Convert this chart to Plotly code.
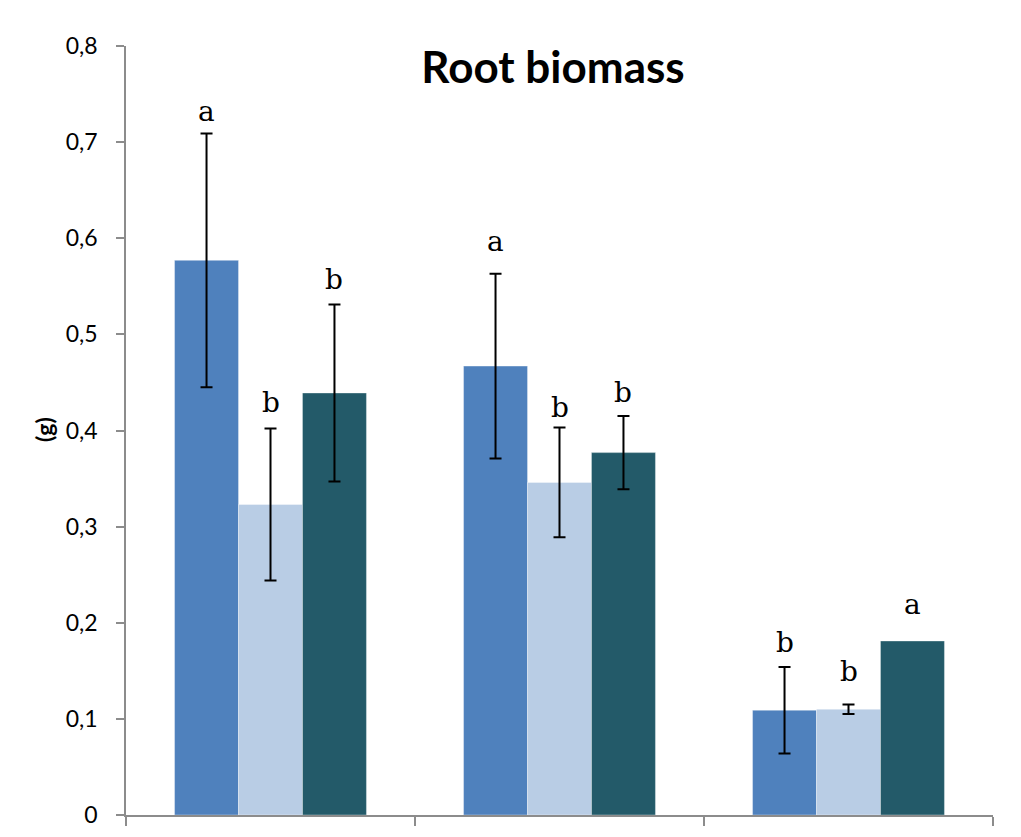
import plotly.graph_objects as go

categories = ["Group 1", "Group 2", "Group 3"]
series_names = ["Series 1", "Series 2", "Series 3"]
values = [
    [0.577, 0.467, 0.109],
    [0.323, 0.346, 0.110],
    [0.439, 0.377, 0.181],
]
errors = [
    [0.132, 0.096, 0.045],
    [0.079, 0.057, 0.005],
    [0.092, 0.038, None],
]
letters = [
    ["a", "a", "b"],
    ["b", "b", "b"],
    ["b", "b", "a"],
]
letter_y = [
    [0.7315, 0.5963, 0.179],
    [0.4287, 0.4235, 0.1498],
    [0.5567, 0.4391, 0.2185],
]
colors = ["#4F81BD", "#B9CDE5", "#235A69"]
y_ticks = [0, 0.1, 0.2, 0.3, 0.4, 0.5, 0.6, 0.7, 0.8]
y_tick_labels = ["0", "0,1", "0,2", "0,3", "0,4", "0,5", "0,6", "0,7", "0,8"]

bargap = 0.336
bw = (1 - bargap) / 3
xpos = list(range(len(categories)))

fig = go.Figure()
for i, name in enumerate(series_names):
    offs = (i - 1) * bw
    xs = [p + offs for p in xpos]
    fig.add_trace(go.Bar(
        x=xs, y=values[i], name=name, width=bw,
        marker=dict(color=colors[i], line=dict(color="rgba(255,255,255,0.35)", width=1)),
    ))
    ex = [x for x, e in zip(xs, errors[i]) if e is not None]
    ey = [v for v, e in zip(values[i], errors[i]) if e is not None]
    ee = [e for e in errors[i] if e is not None]
    fig.add_trace(go.Scatter(
        x=ex, y=ey, mode="markers", marker=dict(size=0.1, color="rgba(0,0,0,0)"),
        error_y=dict(type="data", array=ee, visible=True, color="black",
                     thickness=2, width=6),
        hoverinfo="skip",
    ))
    for j, p in enumerate(xpos):
        fig.add_annotation(x=p + offs, y=letter_y[i][j], text=letters[i][j],
                           showarrow=False, xanchor="center", yanchor="middle",
                           font=dict(family="DejaVu Serif", size=28, color="black"))

fig.add_annotation(xref="paper", yref="paper", x=-0.113, y=(815 - 430) / 769,
                   text="<b>(g)</b>", textangle=-90, showarrow=False,
                   font=dict(family="Lato", size=23, color="black"))

fig.update_layout(
    width=1021, height=837,
    margin=dict(l=118, r=36, t=38, b=30),
    plot_bgcolor="white", paper_bgcolor="white",
    showlegend=False, barmode="overlay",
    title=dict(text="<b>Root biomass</b>", x=545 / 1021, xanchor="center",
               y=1 - 60 / 837, yanchor="middle",
               font=dict(family="Lato", size=44, color="black")),
    xaxis=dict(range=[-0.5, 2.5], tickvals=[-0.5, 0.5, 1.5, 2.5], showticklabels=False,
               ticks="outside", ticklen=9, tickcolor="#8C8C8C", tickwidth=1.5,
               showline=True, linecolor="#8C8C8C", linewidth=1.5, showgrid=False,
               zeroline=False),
    yaxis=dict(range=[0, 0.8], tickvals=y_ticks, ticktext=y_tick_labels,
               ticks="outside", ticklen=8, tickcolor="#8C8C8C", tickwidth=1.5,
               ticklabelstandoff=14,
               showline=True, linecolor="#8C8C8C", linewidth=1.5, showgrid=False,
               zeroline=False, tickfont=dict(family="Lato", size=23, color="black")),
)

fig.write_html("out.html")
